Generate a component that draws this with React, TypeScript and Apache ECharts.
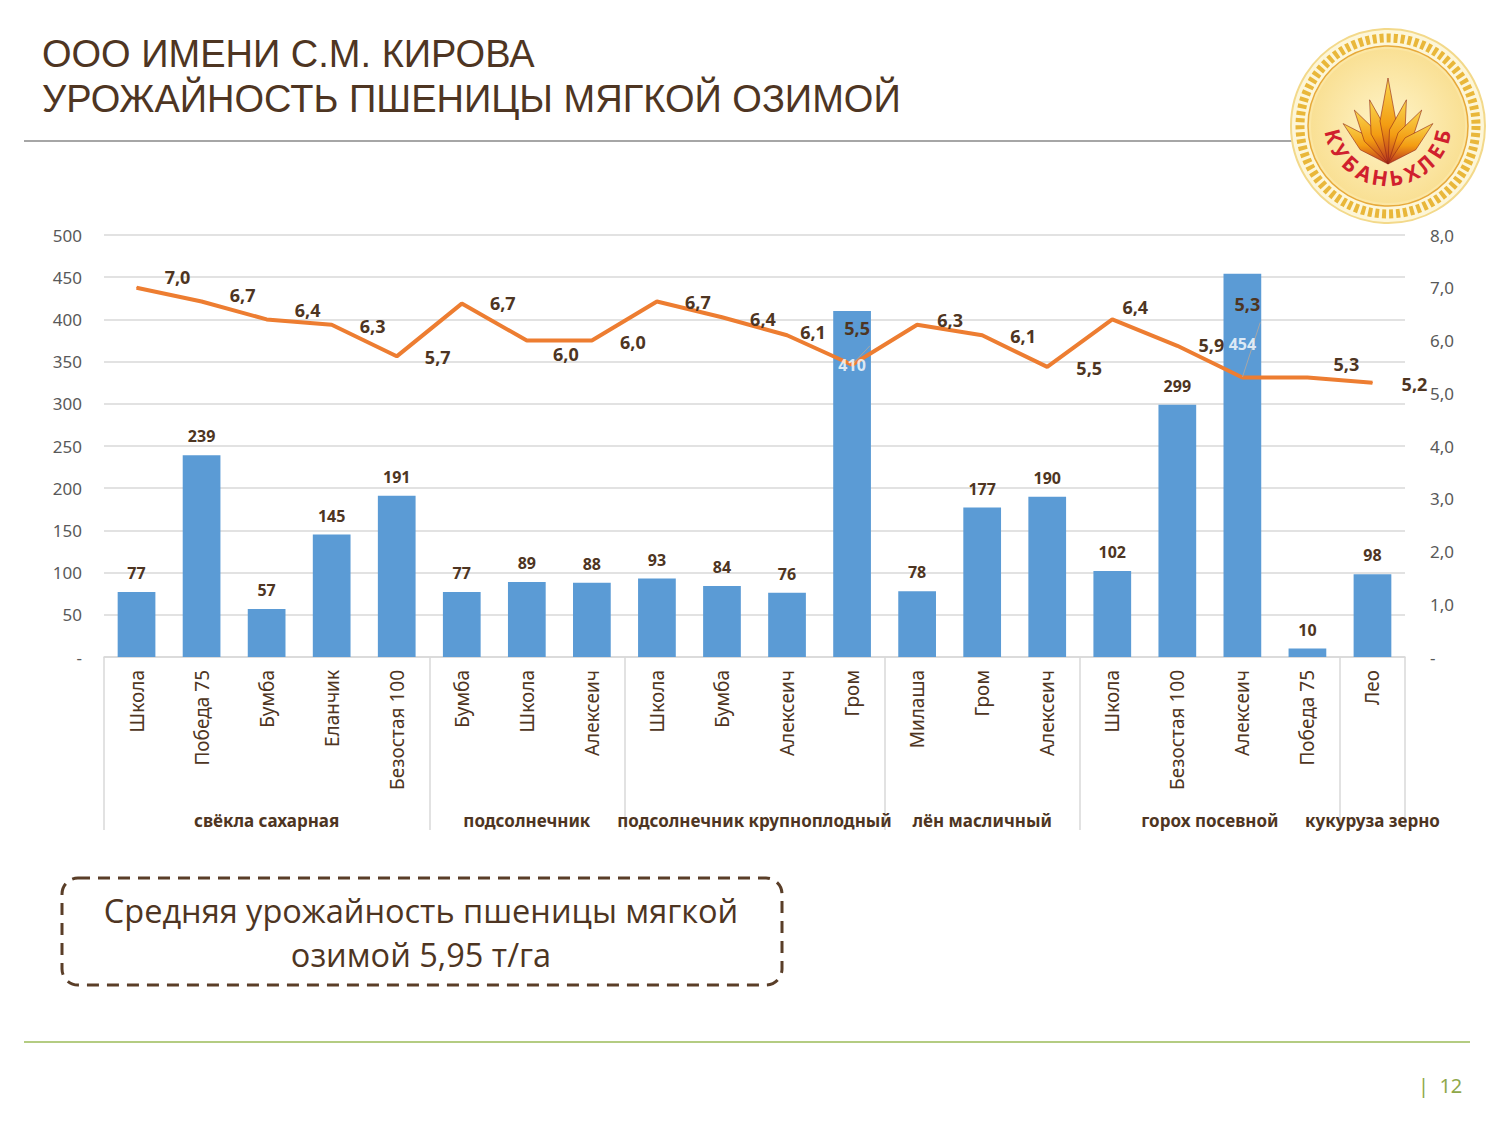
import { useEffect, useRef } from "react";
import * as echarts from "echarts";

// wheat yield by predecessor crop and variety
const varieties = [
  "Школа", "Победа 75", "Бумба", "Еланчик", "Безостая 100",
  "Бумба", "Школа", "Алексеич",
  "Школа", "Бумба", "Алексеич", "Гром",
  "Милаша", "Гром", "Алексеич",
  "Школа", "Безостая 100", "Алексеич", "Победа 75",
  "Лео",
];
const areaHa = [77, 239, 57, 145, 191, 77, 89, 88, 93, 84, 76, 410, 78, 177, 190, 102, 299, 454, 10, 98];
const yieldT = [7.0, 6.74, 6.4, 6.3, 5.7, 6.7, 6.0, 6.0, 6.74, 6.44, 6.1, 5.54, 6.3, 6.1, 5.5, 6.4, 5.9, 5.3, 5.3, 5.2];

const groupNames = [
  "свёкла сахарная", "подсолнечник", "подсолнечник крупноплодный",
  "лён масличный", "горох посевной", "кукуруза зерно",
];
const groupSizes = [5, 3, 4, 3, 4, 1];

// label placement (px) of the yield labels, relative to the point
const yieldLabelOffset = [
  [41, -11], [41, -6], [41, -9], [41, 1], [41, 1], [41, -1], [39, 13], [41, 1], [41, 1], [41, 2],
  [26, -3], [5, -37], [33, -5], [41, 1], [42, 1], [23, -12], [34, -1], [5, -73], [39, -13], [42, 1],
];
// points whose label has a leader line
const leaderIdx = [11, 17];
// tall bars carry their label inside, in white
const TALL = 400;

const BROWN = "#4e3522";
const FONT = "'Noto Sans', 'Open Sans', sans-serif";

// group boundaries and centres on a 0..20 scale
const bounds: number[] = [0];
groupSizes.forEach((s) => bounds.push(bounds[bounds.length - 1] + s));
const centres = groupSizes.map((s, i) => bounds[i] + s / 2);

const comma = (v: number) => (v === 0 ? "-" : v.toFixed(1).replace(".", ","));

function logo(cx: number, cy: number) {
  const els: any[] = [
    { type: "circle", shape: { cx, cy, r: 97 }, style: { fill: "#fdf6d8", stroke: "#f3d98a", lineWidth: 2 } },
    { type: "circle", shape: { cx, cy, r: 88 }, style: { fill: "none", stroke: "#e9b73a", lineWidth: 9, lineDash: [4, 3] } },
    { type: "circle", shape: { cx, cy, r: 80 }, style: { fill: "#fbe6a4", stroke: "#e7a93a", lineWidth: 1.5 } },
    {
      type: "circle",
      shape: { cx, cy, r: 77 },
      style: {
        fill: new echarts.graphic.RadialGradient(0.5, 0.5, 0.6, [
          { offset: 0, color: "#fff4c9" },
          { offset: 1, color: "#f8dc8a" },
        ]),
      },
    },
  ];
  // wheat sheaf
  const base = [cx, cy + 38];
  const stalks = [-48, -32, -16, 0, 16, 32, 48];
  stalks.forEach((a) => {
    const rad = (a * Math.PI) / 180;
    const len = a === 0 ? 86 : 70 - Math.abs(a) * 0.2;
    const tx = base[0] + Math.sin(rad) * len;
    const ty = base[1] - Math.cos(rad) * len;
    const nx = Math.cos(rad) * 8;
    const ny = Math.sin(rad) * 8;
    els.push({
      type: "polygon",
      shape: {
        points: [
          [base[0], base[1]],
          [base[0] + (tx - base[0]) * 0.5 + nx, base[1] + (ty - base[1]) * 0.5 + ny],
          [tx, ty],
          [base[0] + (tx - base[0]) * 0.5 - nx, base[1] + (ty - base[1]) * 0.5 - ny],
        ],
      },
      style: {
        fill: new echarts.graphic.LinearGradient(0, 1, 0, 0, [
          { offset: 0, color: "#b8321f" },
          { offset: 0.45, color: "#f39c12" },
          { offset: 1, color: "#f9d64f" },
        ]),
        stroke: "#8e2415",
        lineWidth: 0.6,
      },
    });
  });
  // lettering along the lower arc
  const word = "КУБАНЬХЛЕБ";
  const r = 56;
  const a0 = 165;
  const a1 = 15;
  for (let i = 0; i < word.length; i++) {
    const th = a0 + ((a1 - a0) * i) / (word.length - 1);
    const t = (th * Math.PI) / 180;
    els.push({
      type: "text",
      x: cx + r * Math.cos(t),
      y: cy - 4 + r * Math.sin(t),
      rotation: (-(th - 90) * Math.PI) / 180,
      z: 10,
      style: {
        text: word[i],
        fill: "#d0202e",
        font: `bold 21px ${FONT}`,
        align: "center",
        verticalAlign: "middle",
      },
    });
  }
  return els;
}

export default function App() {
  const ref = useRef<HTMLDivElement>(null);

  useEffect(() => {
    if (!ref.current) return;
    const chart = echarts.init(ref.current, undefined, { renderer: "svg" });

    chart.setOption({
      animation: false,
      backgroundColor: "#ffffff",
      textStyle: { fontFamily: FONT },
      grid: { left: 104, right: 95, top: 235, bottom: 468, containLabel: false },
      xAxis: [
        {
          type: "category",
          data: varieties,
          axisLine: { lineStyle: { color: "#d9d9d9", width: 1.5 } },
          axisTick: { show: false },
          axisLabel: { rotate: 90, interval: 0, margin: 13, color: BROWN, fontSize: 19, fontFamily: FONT },
        },
        {
          type: "value",
          min: 0,
          max: 20,
          position: "bottom",
          axisLine: { show: false },
          splitLine: { show: false },
          axisTick: {
            show: true,
            customValues: bounds,
            length: 173,
            lineStyle: { color: "#d9d9d9", width: 1.5 },
          },
          axisLabel: {
            customValues: centres,
            margin: 155,
            color: BROWN,
            fontSize: 17,
            fontWeight: "bold",
            fontFamily: FONT,
            formatter: (v: number) => groupNames[centres.indexOf(v)] ?? "",
          },
        },
      ],
      yAxis: [
        {
          type: "value",
          min: 0,
          max: 500,
          interval: 50,
          axisLine: { show: false },
          axisTick: { show: false },
          splitLine: { lineStyle: { color: "#d9d9d9", width: 1.5 } },
          axisLabel: {
            margin: 22,
            color: "#595959",
            fontSize: 17,
            formatter: (v: number) => (v === 0 ? "-" : String(v)),
          },
        },
        {
          type: "value",
          min: 0,
          max: 8,
          interval: 1,
          axisLine: { show: false },
          axisTick: { show: false },
          splitLine: { show: false },
          axisLabel: { margin: 25, color: "#595959", fontSize: 17, formatter: comma },
        },
      ],
      series: [
        {
          type: "bar",
          xAxisIndex: 0,
          yAxisIndex: 0,
          barWidth: "58%",
          itemStyle: { color: "#5b9bd5" },
          label: {
            show: true,
            position: "top",
            distance: 11,
            color: BROWN,
            fontSize: 16,
            fontWeight: "bold",
          },
          data: areaHa.map((v) => (v > TALL ? { value: v, label: { show: false } } : v)),
        },
        {
          type: "line",
          xAxisIndex: 0,
          yAxisIndex: 1,
          symbol: "circle",
          symbolSize: 1,
          lineStyle: { color: "#ed7d31", width: 4 },
          itemStyle: { color: "#ed7d31" },
          label: {
            show: true,
            position: "inside",
            color: BROWN,
            fontSize: 18,
            fontWeight: "bold",
            formatter: (p: any) => comma(p.value),
          },
          labelLine: { show: false, lineStyle: { color: "#a6a6a6", width: 1 } },
          data: yieldT.map((v, i) => ({
            value: v,
            label: { offset: yieldLabelOffset[i] },
            labelLine: { show: leaderIdx.includes(i) },
          })),
        },
        {
          // white labels of the tall bars, drawn above the line
          type: "scatter",
          xAxisIndex: 0,
          yAxisIndex: 0,
          symbolSize: 0,
          z: 10,
          silent: true,
          label: {
            show: true,
            position: "inside",
            color: "#ffffff",
            fontSize: 16,
            fontWeight: "bold",
            formatter: (p: any) => String(p.value),
          },
          data: areaHa.map((v) =>
            v > TALL ? { value: v, label: { offset: [0, v > 450 ? 70 : 54] } } : "-"
          ),
        },
      ],
      graphic: [
        {
          type: "text",
          x: 42,
          y: 54,
          style: {
            text: "ООО ИМЕНИ С.М. КИРОВА",
            fill: BROWN,
            font: `38px 'Liberation Sans', Arial, sans-serif`,
            verticalAlign: "middle",
          },
        },
        {
          type: "text",
          x: 42,
          y: 99,
          style: {
            text: "УРОЖАЙНОСТЬ ПШЕНИЦЫ МЯГКОЙ ОЗИМОЙ",
            fill: BROWN,
            font: `38px 'Liberation Sans', Arial, sans-serif`,
            verticalAlign: "middle",
          },
        },
        { type: "line", shape: { x1: 24, y1: 141, x2: 1292, y2: 141 }, style: { stroke: "#a6a6a6", lineWidth: 2 } },
        ...logo(1388, 126),
        {
          type: "rect",
          shape: { x: 62, y: 878, width: 720, height: 107, r: 16 },
          style: { fill: "none", stroke: "#5a3e28", lineWidth: 3, lineDash: [12, 8] },
        },
        {
          type: "text",
          x: 421,
          y: 932,
          style: {
            text: "Средняя урожайность пшеницы мягкой\nозимой 5,95 т/га",
            fill: BROWN,
            font: `32.5px 'Liberation Sans Narrow', 'Open Sans', sans-serif`,
            lineHeight: 44,
            align: "center",
            verticalAlign: "middle",
          },
        },
        { type: "line", shape: { x1: 24, y1: 1042, x2: 1470, y2: 1042 }, style: { stroke: "#9bbb59", lineWidth: 1.5 } },
        {
          type: "text",
          x: 1418,
          y: 1085,
          style: { text: "|  12", fill: "#8fa84a", font: `20px ${FONT}`, verticalAlign: "middle" },
        },
      ],
    });

    return () => chart.dispose();
  }, []);

  return (
    <div
      ref={ref}
      style={{ position: "absolute", left: 0, top: 0, width: 1500, height: 1125 }}
    />
  );
}
